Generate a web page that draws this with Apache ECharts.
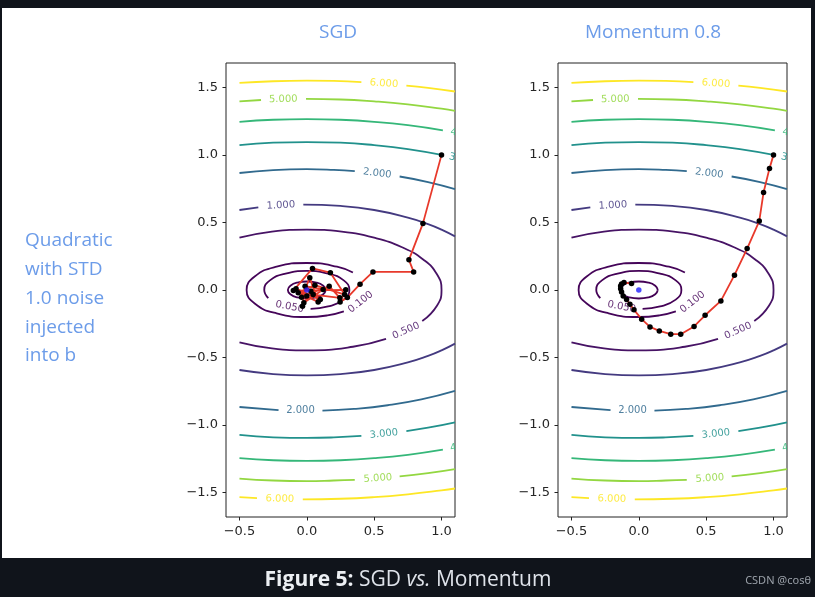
<!DOCTYPE html>
<html><head><meta charset="utf-8">
<script src="https://cdn.jsdelivr.net/npm/echarts@6.0.0/dist/echarts.min.js"></script>
<style>html,body{margin:0;padding:0;background:#10141b;}#c{width:815px;height:597px;}</style>
</head><body><div id="c"></div>
<script>
// ---------------- data ----------------
const xTicks = [-0.5, 0, 0.5, 1.0];
const yTicks = [-1.5, -1.0, -0.5, 0, 0.5, 1.0, 1.5];
const panelTitles = ['SGD', 'Momentum 0.8'];
const rowLabel = ['Quadratic', 'with STD', '1.0 noise', 'injected', 'into b'];
const captionBold = 'Figure 5:';
const captionRest = ['SGD', 'vs.', 'Momentum'];
const watermark = 'CSDN @cos\u03b8';

const levels = [0.01, 0.05, 0.1, 0.5, 1, 2, 3, 4, 5, 6];
const levelColors = ['#440154', '#440256', '#450559', '#471365', '#443a80',
                     '#316a8e', '#21918c', '#35b779', '#93d741', '#fde725'];

// contour segments per level (each segment a list of [x, y]; gaps = inline labels)
const contour001 = [
  [[0.141,0],[0.122,0.032],[0.071,0.055],[0,0.063],[-0.071,0.055],[-0.122,0.032],[-0.141,0],
   [-0.122,-0.032],[-0.071,-0.055],[0,-0.063],[0.071,-0.055],[0.122,-0.032],[0.141,0]]
];
const contour005 = [
  [[0.028,-0.140],[0.158,-0.122],[0.274,-0.071],[0.316,0],[0.274,0.071],[0.158,0.122],[0,0.141],
   [-0.158,0.122],[-0.274,0.071],[-0.316,0],[-0.286,-0.060]]
];
const contour01 = [
  [[0.342,0.129],[0.224,0.173],[0,0.2],[-0.224,0.173],[-0.387,0.1],[-0.447,0],[-0.387,-0.1],
   [-0.224,-0.173],[0,-0.2],[0.153,-0.188],[0.275,-0.158]]
];
const contour05 = [
  [[-0.5,0.387],[-0.259,0.432],[0,0.447],[0.259,0.432],[0.5,0.387],[0.707,0.316],[0.866,0.224],
   [0.966,0.116],[1,0],[0.966,-0.116],[0.857,-0.230]],
  [[0.588,-0.362],[0.342,-0.420],[0,-0.447],[-0.259,-0.432],[-0.5,-0.387]]
];
const contour1 = [
  [[-0.5,0.592],[-0.36,0.612]],
  [[-0.026,0.632],[0.25,0.622],[0.5,0.592],[0.75,0.536],[0.9,0.488],[1.0,0.447],[1.1,0.397]],
  [[-0.5,-0.592],[-0.25,-0.622],[0,-0.632],[0.25,-0.622],[0.5,-0.592],[0.75,-0.536],[0.9,-0.488],[1.0,-0.447],[1.1,-0.397]]
];
const contour2 = [
  [[-0.5,0.866],[-0.25,0.887],[0,0.894],[0.2,0.889],[0.356,0.880]],
  [[0.689,0.840],[0.9,0.799],[1.1,0.747]],
  [[-0.5,-0.866],[-0.21,-0.889]],
  [[0.116,-0.893],[0.35,-0.880],[0.6,-0.853],[0.85,-0.810],[1.1,-0.747]]
];
const contour3 = [
  [[-0.5,1.072],[-0.25,1.090],[0,1.095],[0.25,1.090],[0.5,1.072],[0.75,1.043],[1.0,1.0]],
  [[-0.5,-1.072],[-0.25,-1.090],[0,-1.095],[0.2,-1.091],[0.405,-1.080]],
  [[0.739,-1.044],[0.9,-1.019],[1.1,-0.979]]
];
const contour4 = [
  [[-0.5,1.245],[-0.25,1.260],[0,1.265],[0.25,1.260],[0.5,1.245],[0.75,1.220],[1.01,1.182]],
  [[-0.5,-1.245],[-0.25,-1.260],[0,-1.265],[0.25,-1.260],[0.5,-1.245],[0.75,-1.220],[1.01,-1.182]]
];
const contour5 = [
  [[-0.5,1.396],[-0.34,1.406]],
  [[-0.006,1.414],[0.25,1.410],[0.5,1.396],[0.75,1.374],[1.0,1.342],[1.1,1.326]],
  [[-0.5,-1.396],[-0.25,-1.410],[0,-1.414],[0.2,-1.410],[0.356,-1.405]],
  [[0.689,-1.380],[0.9,-1.356],[1.1,-1.326]]
];
const contour6 = [
  [[-0.5,1.533],[-0.25,1.545],[0,1.549],[0.2,1.547],[0.405,1.539]],
  [[0.739,1.513],[0.9,1.496],[1.1,1.469]],
  [[-0.5,-1.533],[-0.37,-1.540]],
  [[-0.03,-1.549],[0.25,-1.545],[0.5,-1.533],[0.75,-1.512],[1.0,-1.483],[1.1,-1.469]]
];
// inline contour labels: [x, y, text, rotation in degrees, level index]
const contourLabels = [
  [-0.128,-0.125,'0.050',-11,1],
  [0.40,-0.089,'0.100',38,2],
  [0.737,-0.302,'0.500',24,3],
  [-0.193,0.626,'1.000',3,4],
  [0.523,0.863,'2.000',-7,5],
  [-0.047,-0.893,'2.000',0,5],
  [1.16,0.965,'3.000',-13,6],
  [0.572,-1.065,'3.000',6,6],
  [1.17,1.152,'4.000',-11,7],
  [1.17,-1.152,'4.000',11,7],
  [-0.175,1.411,'5.000',1,8],
  [0.528,-1.394,'5.000',4,8],
  [0.572,1.527,'6.000',-4,9],
  [-0.2,-1.546,'6.000',-1,9]
];

// optimisation trajectories
const sgdX = [1.0, 0.862, 0.758, 0.793, 0.491, 0.395, 0.301, 0.247, 0.289, -0.100, 0.042, 0.175, 0.281,
              0.060, -0.064, 0.084, 0.022, -0.039, 0.166, 0.245, 0.047, -0.022, 0.121, -0.013, -0.032,
              0.030, 0.100, -0.080, 0.000];
const sgdY = [1.0, 0.493, 0.223, 0.134, 0.134, 0.043, -0.056, -0.088, 0.001, -0.004, 0.160, 0.128, -0.034,
              0.036, -0.020, -0.088, 0.090, -0.053, 0.028, -0.058, -0.034, -0.095, 0.004, 0.028, -0.120,
              -0.010, -0.070, 0.010, -0.045];
const momX = [1.0, 0.97, 0.926, 0.894, 0.804, 0.71, 0.609, 0.492, 0.41, 0.311, 0.237, 0.152, 0.083, 0.021,
              -0.036, -0.066, -0.091, -0.116, -0.128, -0.135, -0.135, -0.128, -0.11, -0.054];
const momY = [1.0, 0.9, 0.722, 0.51, 0.307, 0.11, -0.081, -0.187, -0.27, -0.327, -0.327, -0.303, -0.273, -0.216,
              -0.147, -0.105, -0.07, -0.044, -0.015, 0.01, 0.03, 0.045, 0.055, 0.048];
const optimum = [0, 0];

// ---------------- chart ----------------
const contourSets = [contour001, contour005, contour01, contour05, contour1, contour2, contour3, contour4, contour5, contour6];
const grids = [
  {left: 226, top: 63, width: 229, height: 454},
  {left: 558, top: 63, width: 229, height: 454}
];
const fmt = v => (v < 0 ? '\u2212' : '') + Math.abs(v).toFixed(1);
const tickFont = '"DejaVu Sans", sans-serif';

const series = [];
[0, 1].forEach(g => {
  contourSets.forEach((segs, li) => segs.forEach(seg => series.push({
    type: 'line', xAxisIndex: g, yAxisIndex: g, data: seg, smooth: 0.5,
    symbol: 'none', showSymbol: false, silent: true, z: 2,
    lineStyle: {color: levelColors[li], width: 1.8}
  })));
  series.push({
    type: 'custom', xAxisIndex: g, yAxisIndex: g, clip: true, silent: true, z: 3,
    data: contourLabels.map((l, i) => [l[0], l[1], i]),
    renderItem: (params, api) => {
      const l = contourLabels[api.value(2)];
      const p = api.coord([l[0], l[1]]);
      const cs = params.coordSys;
      return {
        type: 'group',
        clipPath: {type: 'rect', shape: {x: cs.x, y: cs.y, width: cs.width, height: cs.height}},
        children: [{
          type: 'text', x: p[0], y: p[1], rotation: l[3] * Math.PI / 180,
          style: {text: l[2], fill: levelColors[l[4]], opacity: 0.85,
                  font: '10px "DejaVu Sans", sans-serif', align: 'center', verticalAlign: 'middle'}
        }]
      };
    }
  });
  const tx = g === 0 ? sgdX : momX, ty = g === 0 ? sgdY : momY;
  series.push({
    type: 'line', xAxisIndex: g, yAxisIndex: g, z: 4, silent: true,
    data: tx.map((x, i) => [x, ty[i]]),
    symbol: 'circle', symbolSize: 5.5, showSymbol: true, showAllSymbol: true,
    itemStyle: {color: '#000'}, lineStyle: {color: '#e8392b', width: 1.8}
  });
  series.push({
    type: 'scatter', xAxisIndex: g, yAxisIndex: g, z: 5, silent: true,
    data: [optimum], symbolSize: 5.5, itemStyle: {color: '#1f1fff'}
  });
});

const graphic = [
  {type: 'rect', z: -10, shape: {x: 2, y: 8, width: 809, height: 550}, style: {fill: '#ffffff'}},
  {type: 'text', x: 338, y: 33, style: {text: panelTitles[0], fill: '#6c9ce9', font: '19px "Open Sans", sans-serif', align: 'center', verticalAlign: 'middle'}},
  {type: 'text', x: 653, y: 33, style: {text: panelTitles[1], fill: '#6c9ce9', font: '19px "Open Sans", sans-serif', align: 'center', verticalAlign: 'middle'}},
  {type: 'text', x: 408, y: 580, style: {
    text: '{b|' + captionBold + '} ' + captionRest[0] + ' {i|' + captionRest[1] + '} ' + captionRest[2],
    fill: '#dfe3ea', fontSize: 21, fontFamily: 'Open Sans', align: 'center', verticalAlign: 'middle',
    rich: {b: {fontWeight: 'bold', fontSize: 21, fontFamily: 'Open Sans', fill: '#eceff3'},
           i: {fontStyle: 'italic', fontSize: 21, fontFamily: 'Open Sans', fill: '#dfe3ea'}}
  }},
  {type: 'text', x: 811, y: 581, style: {text: watermark, fill: '#9aa0a8', font: '11px "Noto Sans", sans-serif', align: 'right', verticalAlign: 'middle'}}
];
rowLabel.forEach((t, i) => graphic.push({
  type: 'text', x: 25, y: 241 + i * 28.75,
  style: {text: t, fill: '#6c9ce9', font: '19px "Open Sans", sans-serif', align: 'left', verticalAlign: 'middle'}
}));

const chart = echarts.init(document.getElementById('c'), null, {renderer: 'canvas'});
chart.setOption({
  animation: false,
  backgroundColor: '#10141b',
  grid: grids.map(gr => Object.assign({show: true, borderColor: '#222', borderWidth: 1, backgroundColor: 'transparent'}, gr)),
  xAxis: [0, 1].map(g => ({
    gridIndex: g, type: 'value', min: -0.6, max: 1.1, position: 'bottom',
    axisLine: {show: false, onZero: false}, splitLine: {show: false},
    axisTick: {show: true, customValues: xTicks, length: 3.5, lineStyle: {color: '#222'}},
    axisLabel: {customValues: xTicks, formatter: fmt, fontSize: 13, color: '#262626', fontFamily: tickFont, margin: 8}
  })),
  yAxis: [0, 1].map(g => ({
    gridIndex: g, type: 'value', min: -1.68, max: 1.68, position: 'left',
    axisLine: {show: false, onZero: false}, splitLine: {show: false},
    axisTick: {show: true, customValues: yTicks, length: 3.5, lineStyle: {color: '#222'}},
    axisLabel: {customValues: yTicks, formatter: fmt, fontSize: 13, color: '#262626', fontFamily: tickFont, margin: 8}
  })),
  graphic: graphic,
  series: series
});
</script></body></html>
